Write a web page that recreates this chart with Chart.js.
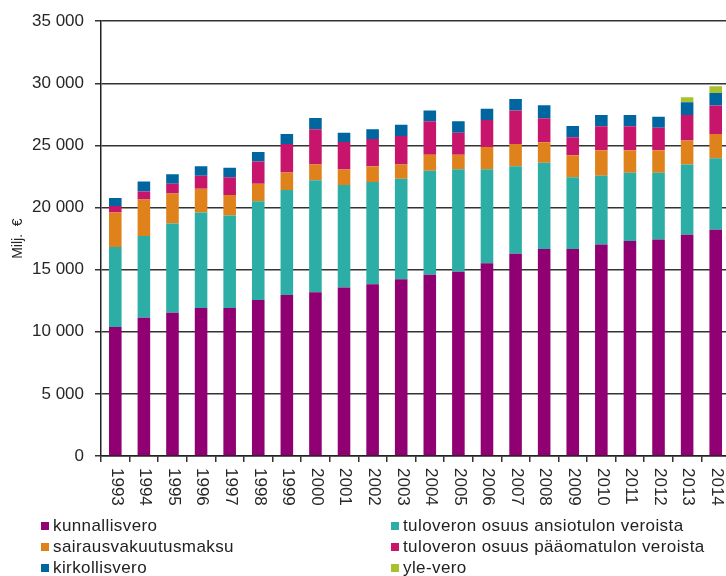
<!DOCTYPE html>
<html>
<head>
<meta charset="utf-8">
<script src="https://cdn.jsdelivr.net/npm/chart.js@4/dist/chart.umd.min.js"></script>
<style>
  html, body { margin: 0; padding: 0; width: 726px; height: 576px; overflow: hidden; background: #fff; }
  #wrap { position: absolute; left: 0; top: 0; width: 730px; height: 510px; }
  #legend { position: absolute; left: 0; top: 0; width: 726px; height: 576px; pointer-events: none;
            font-family: 'Liberation Sans', Arial, sans-serif; font-size: 17px; letter-spacing: 0.4px; color: #222; }
  .item { position: absolute; display: flex; align-items: center; height: 20px; white-space: nowrap; }
  .box { width: 8px; height: 8px; margin-right: 4px; }
</style>
</head>
<body>
<div id="wrap"><canvas id="chart"></canvas></div>
<div id="legend"></div>
<script>
const years = ['1993', '1994', '1995', '1996', '1997', '1998', '1999', '2000', '2001', '2002', '2003',
               '2004', '2005', '2006', '2007', '2008', '2009', '2010', '2011', '2012', '2013', '2014'];

// milj. €
const kunnallisvero = [10390, 11130, 11530, 11910, 11910, 12550, 12950, 13190, 13560, 13830, 14230,
                       14600, 14840, 15510, 16280, 16660, 16660, 17030, 17300, 17430, 17810, 18210];
const ansiotulo = [6430, 6570, 7180, 7690, 7450, 7950, 8460, 9000, 8250, 8220, 8090,
                   8360, 8250, 7580, 7050, 6940, 5770, 5530, 5500, 5370, 5660, 5760];
const sairausvakuutus = [2780, 2940, 2430, 1920, 1650, 1420, 1420, 1280, 1260, 1280, 1150,
                         1280, 1150, 1790, 1790, 1650, 1780, 2050, 1810, 1810, 1920, 1950];
const paaomatulo = [530, 660, 780, 1040, 1420, 1790, 2290, 2830, 2210, 2190, 2290,
                    2700, 1790, 2170, 2700, 1930, 1450, 1930, 1930, 1820, 2050, 2300];
const kirkollisvero = [640, 800, 770, 770, 770, 770, 800, 900, 750, 780, 910,
                       880, 910, 900, 910, 1060, 900, 900, 900, 880, 1040, 1010];
const yleVero = [null, null, null, null, null, null, null, null, null, null, null,
                 null, null, null, null, null, null, null, null, null, 400, 540];

const seriesNames = ['kunnallisvero', 'tuloveron osuus ansiotulon veroista', 'sairausvakuutusmaksu',
                     'tuloveron osuus pääomatulon veroista', 'kirkollisvero', 'yle-vero'];
const seriesData = [kunnallisvero, ansiotulo, sairausvakuutus, paaomatulo, kirkollisvero, yleVero];
const seriesColors = ['#900073', '#2cada5', '#e0821c', '#c8156c', '#0066a0', '#a9c02f'];

const font = "'Liberation Sans', Arial, sans-serif";
const textColor = '#262626';

function fmt(v) {
    return String(v).replace(/\B(?=(\d{3})+(?!\d))/g, ' ');
}

// x labels read top to bottom
const yearLabels = {
    id: 'yearLabels',
    afterDraw(chart) {
        const ctx = chart.ctx;
        const xs = chart.scales.x;
        ctx.save();
        ctx.font = '17px ' + font;
        ctx.fillStyle = textColor;
        ctx.textAlign = 'left';
        ctx.textBaseline = 'middle';
        years.forEach((y, i) => {
            ctx.save();
            ctx.translate(xs.getPixelForValue(i) + 1, chart.chartArea.bottom + 12);
            ctx.rotate(Math.PI / 2);
            ctx.fillText(y, 0, 0);
            ctx.restore();
        });
        ctx.restore();
    }
};

const ctx = document.getElementById('chart').getContext('2d');

const chart = new Chart(ctx, {
    type: 'bar',
    data: {
        labels: years,
        datasets: seriesNames.map((name, i) => ({
            label: name,
            data: seriesData[i],
            backgroundColor: seriesColors[i],
            borderWidth: 0,
            categoryPercentage: 1,
            barPercentage: 0.44
        }))
    },
    options: {
        responsive: true,
        maintainAspectRatio: false,
        animation: false,
        layout: { padding: { left: 0, top: 19, right: 0, bottom: 0 } },
        plugins: {
            legend: { display: false },
            tooltip: { enabled: false }
        },
        scales: {
            x: {
                stacked: true,
                afterFit: s => { s.height = 54; },
                ticks: { display: false },
                grid: {
                    display: true,
                    drawOnChartArea: false,
                    drawTicks: true,
                    tickLength: 6,
                    color: '#333',
                    lineWidth: 1.5
                },
                border: { color: '#222', width: 1.5 }
            },
            y: {
                stacked: true,
                min: 0,
                max: 35000,
                afterFit: s => { s.width = 101; },
                ticks: {
                    stepSize: 5000,
                    padding: 11,
                    color: textColor,
                    font: { family: font, size: 17 },
                    callback: v => fmt(v)
                },
                grid: {
                    color: '#333',
                    lineWidth: 1.5,
                    tickLength: 6
                },
                border: { color: '#222', width: 1.5 },
                title: {
                    display: true,
                    text: 'Milj.  €',
                    color: textColor,
                    font: { family: font, size: 14 },
                    padding: { top: 10, bottom: 0 }
                }
            }
        }
    },
    plugins: [yearLabels]
});

// legend in two columns, same order as the stack
const legend = document.getElementById('legend');
seriesNames.forEach((name, i) => {
    const col = i % 2;
    const row = Math.floor(i / 2);
    const item = document.createElement('div');
    item.className = 'item';
    item.style.left = (col === 0 ? 41 : 391) + 'px';
    item.style.top = (516 + row * 21) + 'px';
    const box = document.createElement('span');
    box.className = 'box';
    box.style.background = seriesColors[i];
    const txt = document.createElement('span');
    txt.textContent = name;
    item.appendChild(box);
    item.appendChild(txt);
    legend.appendChild(item);
});
</script>
</body>
</html>
